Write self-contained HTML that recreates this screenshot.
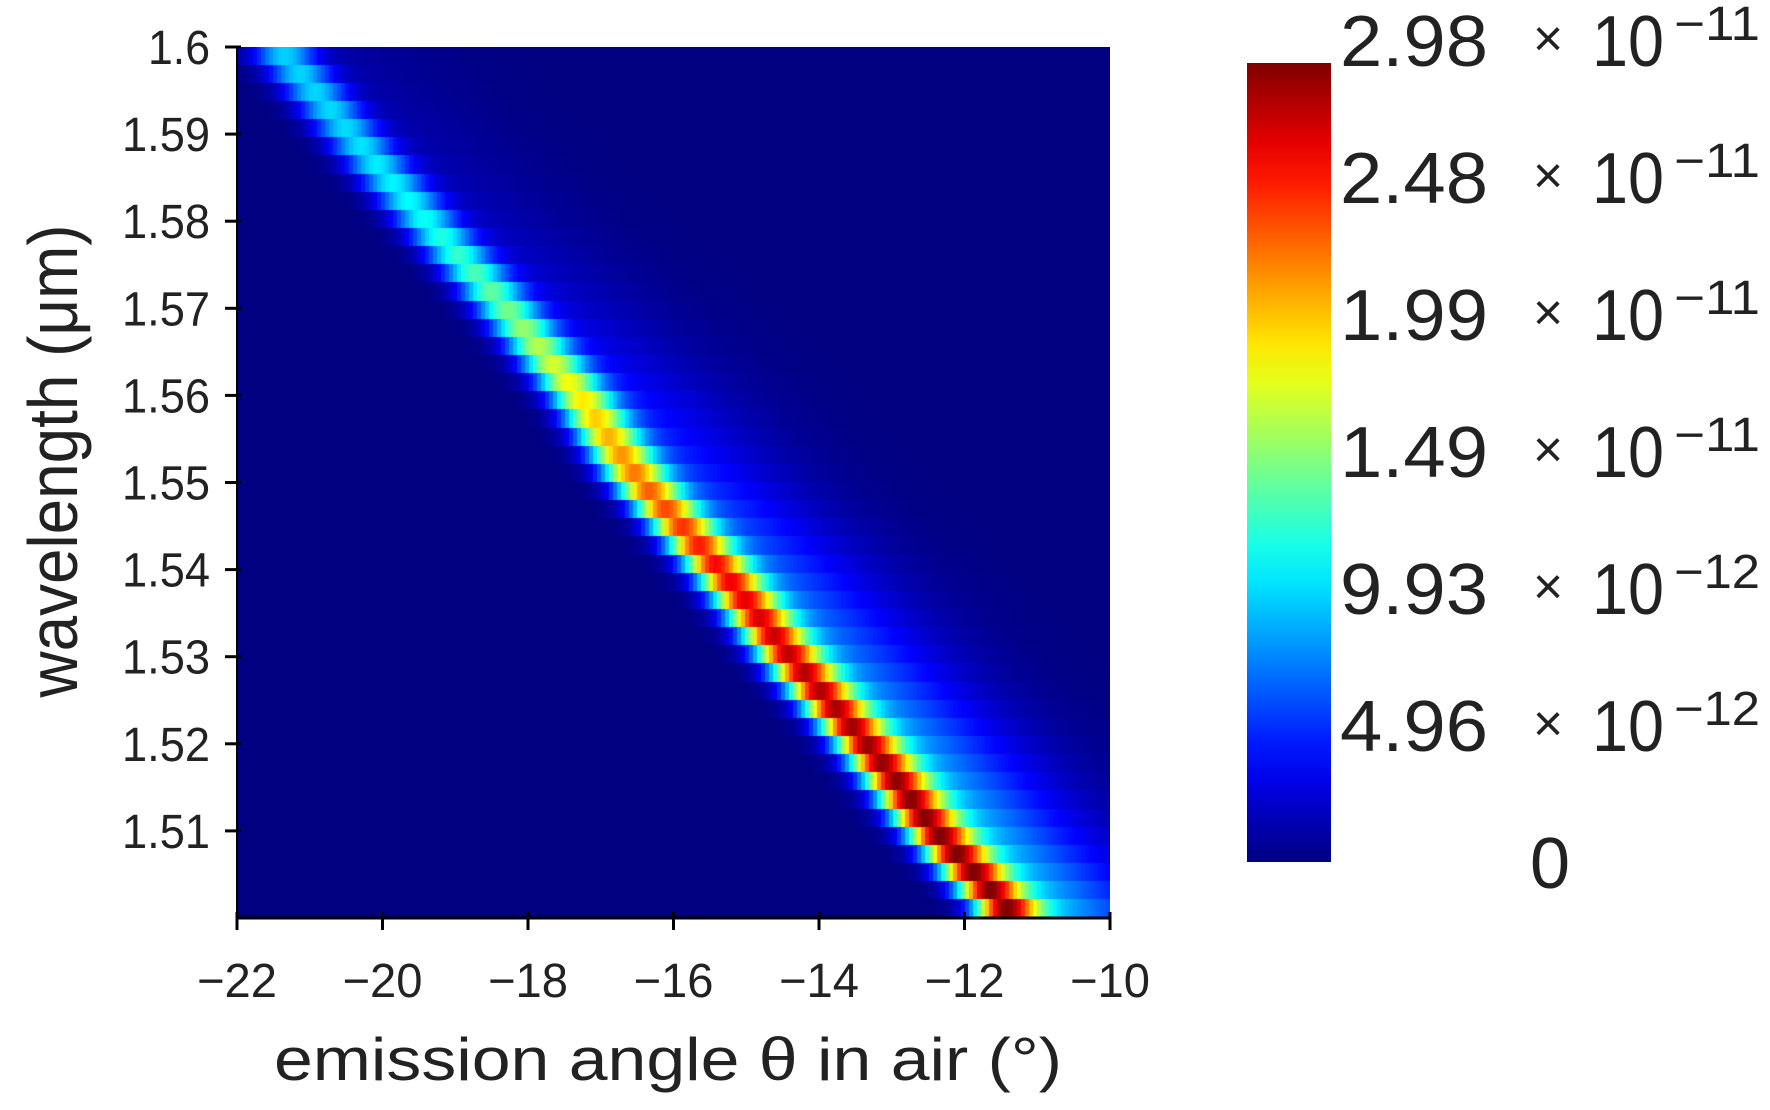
<!DOCTYPE html>
<html><head><meta charset="utf-8">
<style>
html,body{margin:0;padding:0;background:#fff;width:1770px;height:1110px;overflow:hidden}
#wrap{position:relative;width:1770px;height:1110px}
#heat{position:absolute;left:237px;top:47px}
#svg{position:absolute;left:0;top:0}
text{font-family:"Liberation Sans",sans-serif;fill:#222}
</style></head>
<body>
<div id="wrap">
<canvas id="heat" width="873" height="871"></canvas>
<svg id="svg" width="1770" height="1110"></svg>
</div>
<script>
// ---- data ----
const rowWavelengths = [1.50,1.51,1.52,1.53,1.54,1.55,1.56,1.57,1.58,1.59,1.60];
const peakAngle      = [-11.3,-12.4,-13.35,-14.4,-15.35,-16.45,-17.3,-18.3,-19.4,-20.45,-21.45];
const peakValue      = [2.98e-11,2.98e-11,2.9e-11,2.8e-11,2.62e-11,2.3e-11,1.9e-11,1.45e-11,1.15e-11,1.02e-11,0.98e-11];
const tailFraction   = [0.36,0.35,0.33,0.31,0.29,0.27,0.24,0.21,0.18,0.15,0.13];
const xTicks = [-22,-20,-18,-16,-14,-12,-10];
const xTickLabels = ["\u221222","\u221220","\u221218","\u221216","\u221214","\u221212","\u221210"];
const yTicks = [1.51,1.52,1.53,1.54,1.55,1.56,1.57,1.58,1.59,1.6];
const yTickLabels = ["1.51","1.52","1.53","1.54","1.55","1.56","1.57","1.58","1.59","1.6"];
const cbMantissa = ["2.98","2.48","1.99","1.49","9.93","4.96"];
const cbExponent = ["\u221211","\u221211","\u221211","\u221211","\u221212","\u221212"];
const vMax = 2.98e-11;

// ---- axes ----
const X0=237,X1=1110,Y0=47,Y1=918;
const xMin=-22,xMax=-10,yMin=1.50,yMax=1.60;
const sx=v=>X0+(v-xMin)/(xMax-xMin)*(X1-X0);
const sy=v=>Y1-(v-yMin)/(yMax-yMin)*(Y1-Y0);

function jet(t){
  t=Math.max(0,Math.min(1,t));
  const c=x=>Math.round(255*Math.max(0,Math.min(1,x)));
  return [c(1.5-Math.abs(4*t-3)),c(1.5-Math.abs(4*t-2)),c(1.5-Math.abs(4*t-1))];
}
function interp(arr,w){
  const f=(w-rowWavelengths[0])/(rowWavelengths[1]-rowWavelengths[0]);
  const i=Math.max(0,Math.min(arr.length-2,Math.floor(f)));const r=f-i;
  return arr[i]*(1-r)+arr[i+1]*r;
}
// ---- heatmap ----
const cv=document.getElementById('heat');const ctx=cv.getContext('2d');
const nRows=48,nCols=218;
const cw=(X1-X0)/nCols,ch=(Y1-Y0)/nRows;
for(let r=0;r<nRows;r++){
  const w=yMax-(r+0.5)/nRows*(yMax-yMin);
  const c=interp(peakAngle,w),P=interp(peakValue,w),a=interp(tailFraction,w);
  for(let k=0;k<nCols;k++){
    const th=xMin+(k+0.5)/nCols*(xMax-xMin);
    const d=th-c;
    const g=Math.exp(-d*d/(2*0.3*0.3));
    const sr=d>0?1.3:0.3;
    const t2=Math.exp(-d*d/(2*sr*sr));
    const v=P*((1-a)*g+a*t2);
    const [R,G,B]=jet(v/vMax);
    ctx.fillStyle=`rgb(${R},${G},${B})`;
    ctx.fillRect(Math.floor(k*cw),Math.floor(r*ch),Math.ceil(cw)+1,Math.ceil(ch)+1);
  }
}
// ---- svg ----
const svg=document.getElementById('svg');const NS='http://www.w3.org/2000/svg';
function mk(tag,attrs,parent){const e=document.createElementNS(NS,tag);for(const k in attrs)e.setAttribute(k,attrs[k]);(parent||svg).appendChild(e);return e;}

const defs=mk('defs',{});
const lg=mk('linearGradient',{id:'jetg',x1:0,y1:1,x2:0,y2:0},defs);
for(let i=0;i<=20;i++){const [R,G,B]=jet(i/20);mk('stop',{offset:i/20,'stop-color':`rgb(${R},${G},${B})`},lg);}

const ax=mk('g',{});


let l=mk('line',{x1:X0,y1:Y1,x2:X1,y2:Y1,stroke:'#000','stroke-width':3},ax);


l=mk('line',{x1:X0,y1:Y0,x2:X0,y2:Y1,stroke:'#000','stroke-width':2},ax);



xTicks.forEach((v,i)=>{
  const t=mk('line',{x1:sx(v),y1:Y1-6,x2:sx(v),y2:Y1+12,stroke:'#000','stroke-width':3},ax);
  
  
  const tx=mk('text',{x:sx(v),y:997,'font-size':48,'text-anchor':'middle',textLength:80,lengthAdjust:'spacingAndGlyphs'},ax);
  tx.textContent=xTickLabels[i];
  
  
});
yTicks.forEach((v,i)=>{
  const t=mk('line',{x1:X0-12,y1:sy(v),x2:X0+4,y2:sy(v),stroke:'#000','stroke-width':3},ax);
  
  
  const tx=mk('text',{x:210,y:sy(v)+17,'font-size':48,'text-anchor':'end',textLength:yTickLabels[i].length>3?88:62,lengthAdjust:'spacingAndGlyphs'},ax);
  tx.textContent=yTickLabels[i];
  
  
});
let tt=mk('text',{x:668,y:1080,'font-size':60,'text-anchor':'middle',textLength:788,lengthAdjust:'spacingAndGlyphs'});
tt.textContent='emission angle \u03b8 in air (\u00b0)';


tt=mk('text',{x:0,y:0,'font-size':70,'text-anchor':'middle',textLength:473,lengthAdjust:'spacingAndGlyphs',transform:'translate(77,461) rotate(-90)'});
tt.textContent='wavelength (\u03bcm)';



// colorbar
const cb=mk('rect',{x:1247,y:63,width:84,height:799,fill:'url(#jetg)'});


cbMantissa.forEach((m,i)=>{
  const by=66+i*137;
  const g=mk('g',{});
  
  
  let t=mk('text',{x:1340,y:by,'font-size':72,textLength:148,lengthAdjust:'spacingAndGlyphs',fill:'#333'},g);t.textContent=m;
  t=mk('text',{x:1548,y:by-10,'font-size':52,'text-anchor':'middle',fill:'#333'},g);t.textContent='\u00d7';
  t=mk('text',{x:1592,y:by,'font-size':72,textLength:72,lengthAdjust:'spacingAndGlyphs',fill:'#333'},g);t.textContent='10';
  t=mk('text',{x:1674,y:by-26,'font-size':48,textLength:86,lengthAdjust:'spacingAndGlyphs',fill:'#333'},g);t.textContent=cbExponent[i];
});
const z=mk('text',{x:1530,y:888,'font-size':72,fill:'#333'});
z.textContent='0';


</script>
</body></html>
